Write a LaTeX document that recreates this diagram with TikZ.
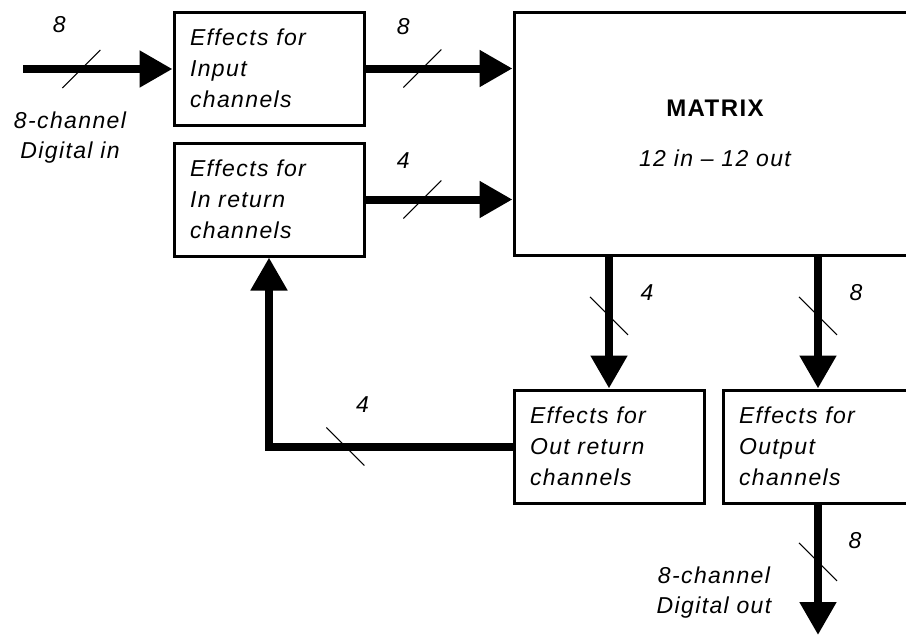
\documentclass[tikz,border=0pt]{standalone}
\usepackage{fontspec}
\setmainfont{Liberation Sans}[LetterSpace=6]
\usetikzlibrary{calc}
\usetikzlibrary{arrows.meta}

\begin{document}
\begin{tikzpicture}[line join=miter,>={Triangle[length=33pt,width=35pt]},x=1pt,y=-1pt,
  box/.style={draw,line width=3pt,minimum height=113pt,text width=158pt,inner xsep=16pt,inner ysep=0pt,align=left,font=\fontsize{23}{31}\selectfont\itshape},
  bus/.style={line width=8pt,->},
  slash/.style={line width=1pt},
  cnt/.style={font=\fontsize{23}{28}\selectfont\itshape},
  txt/.style={align=center,font=\fontsize{23}{30}\selectfont\itshape}]
\useasboundingbox (0,0) rectangle (906,635);
\fill[white] (0,0) rectangle (906,635);
\clip (0,0) rectangle (906,635);
\node[box] (efxin) at (269,68.5) {Effects for\\Input\\channels};
\node[box] (efxret) at (269,199.5) {Effects for\\In return\\channels};
\node[draw,line width=3pt,minimum width=402pt,minimum height=243pt,align=center] (mtx) at (715,133.5) {{\fontsize{24}{30}\selectfont\bfseries MATRIX}\\[33pt]{\fontsize{23}{30}\selectfont\itshape 12 in -- 12 out}};
\node[box] (efxoutret) at (609,446.5) {Effects for\\Out return\\channels};
\node[box] (efxout) at (818,446.5) {Effects for\\Output\\channels};
\coordinate (din) at (23,69);
\coordinate (dout) at (818,635);
\draw[bus] (din) -- coordinate[pos=0.39] (b1) (din -| efxin.west);
\draw[bus] (efxin.east) -- coordinate[pos=0.387] (b2) (efxin.east -| mtx.west);
\draw[bus] (efxret.east) -- coordinate[pos=0.387] (b3) (efxret.east -| mtx.west);
\draw[bus] (efxoutret.north |- mtx.south) -- coordinate[pos=0.45] (b4) (efxoutret.north);
\draw[bus] (efxout.north |- mtx.south) -- coordinate[pos=0.45] (b5) (efxout.north);
\draw[bus] (efxoutret.west) -| coordinate[pos=0.343] (b6) (efxret.south);
\draw[bus] (efxout.south) -- coordinate[pos=0.44] (b7) (dout);
\draw[slash] ($(b1)+(-19,19)$) -- ($(b1)+(19,-19)$);
\draw[slash] ($(b2)+(-19,19)$) -- ($(b2)+(19,-19)$);
\draw[slash] ($(b3)+(-19,19)$) -- ($(b3)+(19,-19)$);
\draw[slash] ($(b4)+(-19,-19)$) -- ($(b4)+(19,19)$);
\draw[slash] ($(b5)+(-19,-19)$) -- ($(b5)+(19,19)$);
\draw[slash] ($(b6)+(-19,-19)$) -- ($(b6)+(19,19)$);
\draw[slash] ($(b7)+(-19,-19)$) -- ($(b7)+(19,19)$);
\node[cnt] at ($(b1)+(-22,-44)$) {8};
\node[cnt] at ($(b2)+(-19,-42)$) {8};
\node[cnt] at ($(b3)+(-19,-39)$) {4};
\node[cnt] at ($(b4)+(38,-23)$) {4};
\node[cnt] at ($(b5)+(38,-23)$) {8};
\node[cnt] at ($(b6)+(17,-42)$) {4};
\node[cnt] at ($(b7)+(37,-21)$) {8};
\node[txt] at (70,138) {8-channel\\Digital in};
\node[txt] at (714,593) {8-channel\\Digital out};
\end{tikzpicture}
\end{document}
